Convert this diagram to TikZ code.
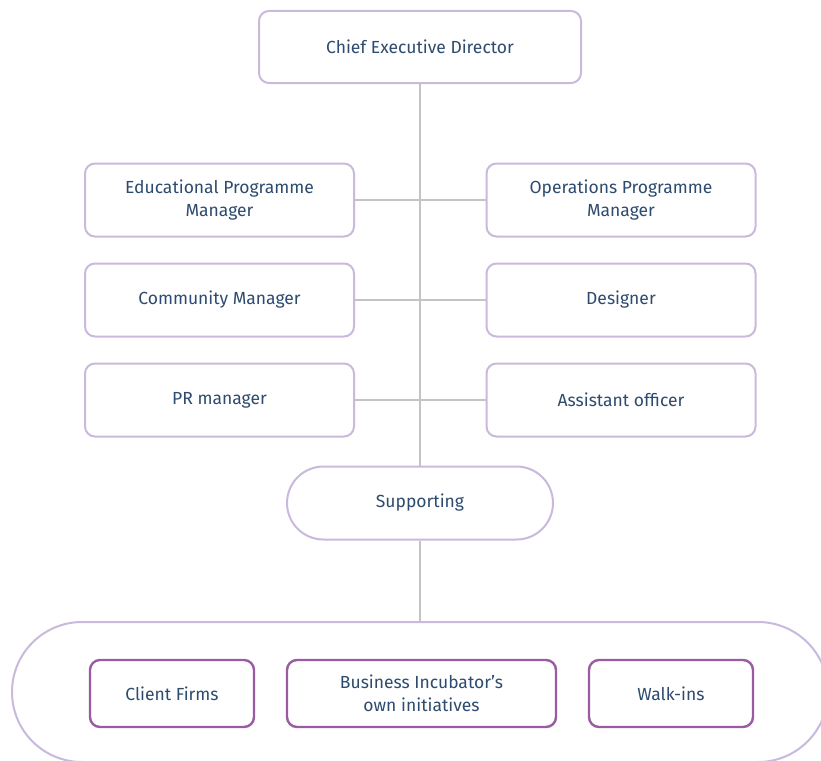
\documentclass[tikz,border=0pt]{standalone}
\usepackage{fontspec}
\setmainfont{Fira Sans}
\usepackage{tikz}
\usetikzlibrary{calc}

\definecolor{lilac}{HTML}{C9B9DD}
\definecolor{plum}{HTML}{9A5BA3}
\definecolor{wire}{HTML}{C4C4C4}
\definecolor{ink}{HTML}{2D4B6E}

\tikzset{
  role/.style={draw=lilac, line width=2pt, rounded corners=10pt, fill=white,
    minimum width=269pt, minimum height=73pt, align=center, text=ink,
    font=\fontsize{17.5}{23.5}\selectfont},
  client/.style={role, draw=plum, line width=2.4pt, minimum height=67pt},
  link/.style={draw=wire, line width=2.4pt}
}

\begin{document}
\begin{tikzpicture}[x=1pt,y=-1pt]
        \useasboundingbox (0,0) rectangle (821,760);
        % grouping that holds the clients
        \node[role, minimum width=816pt, minimum height=140pt, rounded corners=70pt] (base) at (420,692) {};
        \node[role, minimum width=322pt, minimum height=72pt] (ced) at (420,47) {Chief Executive Director};
        \node[role] (edu) at (219.5,200) {Educational Programme\\Manager};
        \node[role] (ops) at (621,200) {Operations Programme\\Manager};
        \node[role] (com) at (219.5,300) {Community Manager};
        \node[role] (des) at (621,300) {Designer};
        \node[role] (prm) at (219.5,400) {PR manager};
        \node[role] (ast) at (621,400) {Assistant officer};
        \node[role, minimum width=266pt, rounded corners=36.5pt] (sup) at (420,503) {Supporting};
        % lines between the roles
        \draw[link] (ced.south) -- (sup.north);
        \draw[link] (edu.east) -- (ops.west);
        \draw[link] (com.east) -- (des.west);
        \draw[link] (prm.east) -- (ast.west);
        \draw[link] (sup.south) -- (base.north);
        % clients
        \node[client, minimum width=164pt] (cli) at (172,693.5) {Client Firms};
        \node[client] (biz) at (421.5,693.5) {Business Incubator’s\\own initiatives};
        \node[client, minimum width=164pt] (walk) at (671,693.5) {Walk-ins};
      \end{tikzpicture}
\end{document}
